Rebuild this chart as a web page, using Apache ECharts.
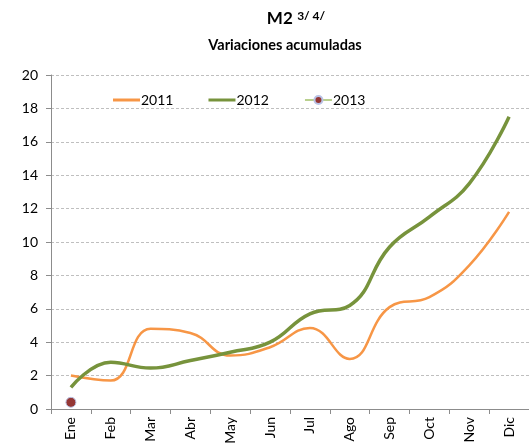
<!DOCTYPE html>
<html>
<head>
<meta charset="utf-8">
<script src="https://cdn.jsdelivr.net/npm/echarts@6/dist/echarts.min.js"></script>
<style>
  html, body { margin: 0; padding: 0; background: #fff; }
  #chart { width: 529px; height: 447px; }
</style>
</head>
<body>
<div id="chart"></div>
<script>
const months = ['Ene', 'Feb', 'Mar', 'Abr', 'May', 'Jun', 'Jul', 'Ago', 'Sep', 'Oct', 'Nov', 'Dic']
const data2011 = [2.0, 1.7, 4.8, 4.55, 3.2, 3.7, 4.85, 3.0, 6.1, 6.7, 8.6, 11.8]
const data2012 = [1.3, 2.8, 2.45, 2.9, 3.4, 4.0, 5.7, 6.2, 9.7, 11.5, 13.5, 17.5]
const data2013 = [0.4]
const yTicks = { min: 0, max: 20, step: 2 }

const font = 'Lato, "Liberation Sans", sans-serif'
const lineIcon = 'path://M0,0 H27 V3 H0 Z'
const chart = echarts.init(document.getElementById('chart'))

chart.setOption({
  animation: false,
  textStyle: { fontFamily: font },
  title: [
    {
      left: 291,
      textAlign: 'center',
      top: 5,
      text: '{a|M2} {b|3/ 4/}',
      textStyle: {
        rich: {
          a: { fontFamily: font, fontSize: 17, fontWeight: 'bold', color: '#000' },
          b: { fontFamily: font, fontSize: 12, fontWeight: 'bold', color: '#000', padding: [0, 0, 6, 0] }
        }
      }
    },
    {
      left: 280,
      textAlign: 'center',
      top: 33,
      text: 'Variaciones acumuladas',
      textStyle: { fontFamily: font, fontSize: 14.5, fontWeight: 'bold', color: '#000' }
    }
  ],
  legend: {
    left: 108,
    top: 88,
    itemWidth: 27,
    itemHeight: 10,
    itemGap: 35,
    textStyle: { fontFamily: font, fontSize: 14, color: '#000', padding: [0, 0, 0, -4] },
    data: [
      { name: '2011', icon: lineIcon },
      { name: '2012', icon: lineIcon },
      { name: '2013' }
    ]
  },
  grid: { left: 51, right: -10, top: 75, bottom: 38 },
  xAxis: {
    type: 'category',
    data: months,
    boundaryGap: true,
    axisLine: { lineStyle: { color: '#8c8c8c', width: 1 } },
    axisTick: { show: true, length: 5, lineStyle: { color: '#8c8c8c' } },
    axisLabel: { rotate: 90, fontFamily: font, fontSize: 14, color: '#000', margin: 8, interval: 0 }
  },
  yAxis: {
    type: 'value',
    min: yTicks.min,
    max: yTicks.max,
    interval: yTicks.step,
    axisLine: { show: true, lineStyle: { color: '#8c8c8c' } },
    axisTick: { show: true, length: 5, lineStyle: { color: '#8c8c8c' } },
    axisLabel: { fontFamily: font, fontSize: 14, color: '#000', margin: 13 },
    splitLine: { lineStyle: { color: '#bfbfbf', type: [3, 2] } }
  },
  series: [
    {
      name: '2011',
      type: 'line',
      data: data2011,
      smooth: 0.45,
      symbol: 'none',
      color: '#F79646',
      lineStyle: { width: 2.5, color: '#F79646' }
    },
    {
      name: '2012',
      type: 'line',
      data: data2012,
      smooth: 0.45,
      symbol: 'none',
      color: '#77933C',
      lineStyle: { width: 3.5, color: '#77933C' }
    },
    {
      name: '2013',
      type: 'line',
      data: data2013,
      symbol: 'circle',
      symbolSize: 10,
      lineStyle: { width: 2.5, color: '#B9D08E' },
      itemStyle: { color: '#953735', borderColor: '#B9C3E6', borderWidth: 1 }
    }
  ]
})
</script>
</body>
</html>
